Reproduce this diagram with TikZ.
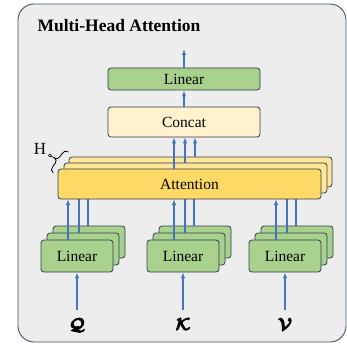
\documentclass[tikz,border=0pt]{standalone}
\usepackage{amsmath}
\usepackage{fontspec}
\setmainfont{Liberation Serif}
\usetikzlibrary{arrows.meta}
\definecolor{bgc}{HTML}{EDEDED}
\definecolor{framec}{RGB}{68,84,106}
\definecolor{edgec}{RGB}{47,60,78}
\definecolor{greenc}{HTML}{A9D18E}
\definecolor{concatc}{HTML}{FFF2CC}
\definecolor{attfront}{HTML}{FFD966}
\definecolor{attback}{HTML}{FFE699}
\definecolor{arrc}{HTML}{4472C4}
\newcommand\myheavy[1]{\special{pdf:literal direct 2 Tr 0.7 w}#1\special{pdf:literal direct 0 Tr}}
\tikzset{
  box/.style={draw=edgec, line width=0.8pt, rounded corners=3pt, inner sep=0pt,
    font=\fontsize{15.5}{18}\selectfont},
  linbox/.style={box, fill=greenc, minimum width=72pt, minimum height=32pt},
  attbox/.style={box, minimum width=263pt, minimum height=30pt},
  arr/.style={draw=arrc, line width=1.2pt, -{Latex[length=6pt,width=4.5pt]}},
  lbl/.style={font=\fontsize{19}{21}\selectfont\boldmath}
}
\begin{document}
\begin{tikzpicture}[x=1pt,y=-1pt]
\useasboundingbox (0,0) rectangle (347,347);
\draw[draw=framec, fill=bgc, line width=0.9pt, rounded corners=16pt] (18,4) rectangle (346,342);
\node[anchor=base west, font=\fontsize{17.5}{20}\selectfont\bfseries] (title) at (34,32) {Multi-Head Attention};

% top linear and concat
\node[box, fill=greenc, minimum width=152pt, minimum height=22pt] (lin) at (184,79) {Linear};
\node[box, fill=concatc, minimum width=152pt, minimum height=30pt] (cc) at (184,122) {Concat};
\coordinate (out) at (184,49);
\draw[arr] (lin.north) -- (out);
\draw[arr] (cc.north) -- (lin.south);

% linear stacks
\foreach \n/\cx in {q/77, k/183, v/285}{
  \node[linbox] (\n3) at (\cx+12,242) {};
  \node[linbox] (\n2) at (\cx+6,249) {};
  \node[linbox] (\n1) at (\cx,256) {Linear};
}
% arrows from linear stacks to attention (partly hidden)
\foreach \n in {q,k,v}{
  \draw[arr] ([xshift=-1pt]\n3.north) -- ([xshift=-1pt]\n3.north |- 0,187);
  \draw[arr] ([xshift=-4pt]\n2.north) -- ([xshift=-4pt]\n2.north |- 0,193);
  \draw[arr] ([xshift=-9pt]\n1.north) -- ([xshift=-9pt]\n1.north |- 0,199);
}

% attention stack
\node[attbox, fill=attback] (att3) at (200.5,172) {};
\node[attbox, fill=attback] (att2) at (195.5,178) {};
\node[attbox, fill=attfront] (att1) at (189.5,184) {Attention};

\draw[arr] ([xshift=-5.5pt]att3.north) -- ([xshift=-5.5pt]att3.north |- cc.south);
\draw[arr] ([xshift=-10.5pt]att2.north) -- ([xshift=-10.5pt]att2.north |- cc.south);
\draw[arr] ([xshift=-15.5pt]att1.north) -- ([xshift=-15.5pt]att1.north |- cc.south);

% inputs
\coordinate (q0) at (77,310);
\coordinate (k0) at (183,310);
\coordinate (v0) at (285,310);
\draw[arr] (q0) -- (q1.south);
\draw[arr] (k0) -- (k1.south);
\draw[arr] (v0) -- (v1.south);
\node[lbl] (ql) at (77,325) {\myheavy{$\mathcal{Q}$}};
\node[lbl] (kl) at (183,324) {\myheavy{$\mathcal{K}$}};
\node[lbl] (vl) at (285,324) {\myheavy{$\mathcal{V}$}};

% H label with brace
\node[font=\fontsize{17}{19}\selectfont] (hl) at (40,148.5) {H};
\begin{scope}[shift={(52,172)}, x={(0.581pt,0.814pt)}, y={(-0.814pt,0.581pt)}]
  \draw[line width=0.8pt, line cap=round]
    (0,-1.5) .. controls (0,1.5) and (2,2.5) .. (5,2.5) -- (9,2.5)
    .. controls (11.5,2.5) and (12.9,3.8) .. (12.9,6)
    .. controls (12.9,3.8) and (14.3,2.5) .. (16.8,2.5) -- (20.8,2.5)
    .. controls (23.8,2.5) and (25.8,1.5) .. (25.8,-1.5);
  \coordinate (tip) at (12.9,6);
\end{scope}
\draw[line width=0.6pt] (50,155.5) circle (1.5);
\draw[line width=0.6pt] (51.3,156.3) -- (tip);
\end{tikzpicture}
\end{document}
